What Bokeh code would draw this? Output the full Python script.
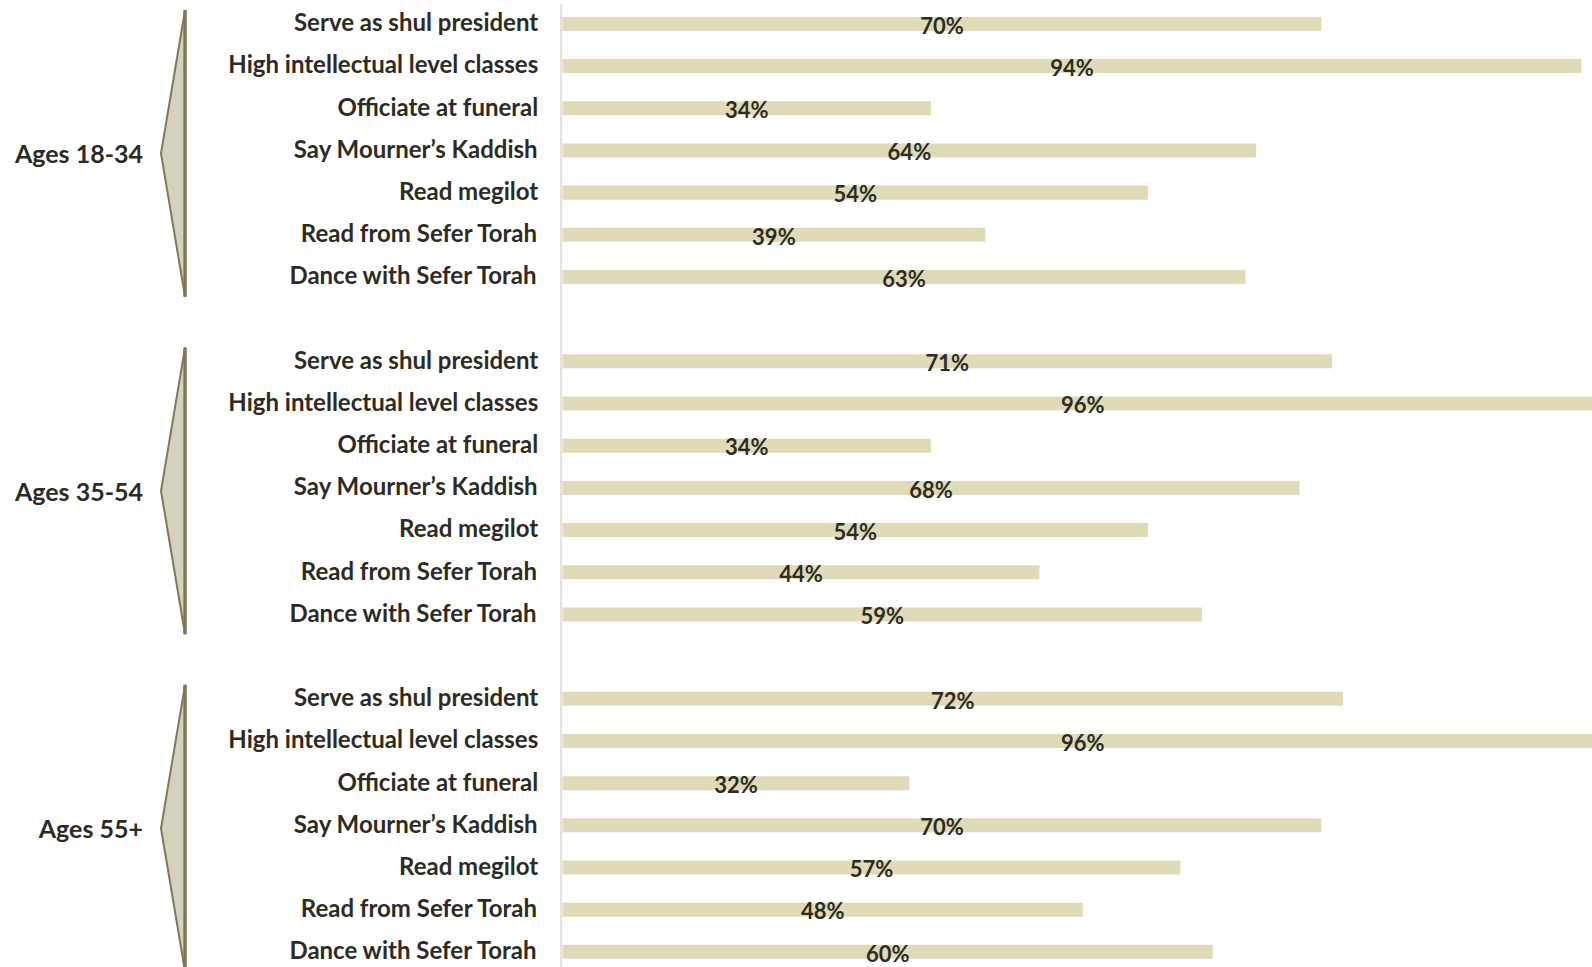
from bokeh.plotting import figure
from bokeh.models import Range1d, ColumnDataSource
from bokeh.core.properties import value
from bokeh.embed import file_html
from bokeh.resources import INLINE

# ---------------- data ----------------
categories = [
    "Serve as shul president",
    "High intellectual level classes",
    "Officiate at funeral",
    "Say Mourner\u2019s Kaddish",
    "Read megilot",
    "Read from Sefer Torah",
    "Dance with Sefer Torah",
]
groups = ["Ages 18-34", "Ages 35-54", "Ages 55+"]
ages_18_34 = [70, 94, 34, 64, 54, 39, 63]
ages_35_54 = [71, 96, 34, 68, 54, 44, 59]
ages_55_plus = [72, 96, 32, 70, 57, 48, 60]
series = [ages_18_34, ages_35_54, ages_55_plus]

# ---------------- styles ----------------
BAR = "#dfdbb7"
TXT = "#2d2b22"
BR_FILL = "#d4d1bd"
BR_LINE = "#7e7a58"
AXIS = "#e3e0d4"
FONT = value("Lato")

# ---------------- layout (rows) ----------------
rows, vals, labs, cats, mids = [], [], [], [], []
grp_rows = []
for g, vs in enumerate(series):
    start = g * 8
    grp_rows.append(start + 3)
    for i, v in enumerate(vs):
        r = start + i
        rows.append(r)
        vals.append(v)
        labs.append(f"{v}%")
        cats.append(categories[i])
        mids.append(v / 2)

src = ColumnDataSource(dict(row=rows, val=vals, lab=labs, cat=cats, mid=mids,
                            labrow=[r + 0.03 for r in rows],
                            catrow=[r - 0.05 for r in rows]))

p = figure(width=1592, height=967,
           x_range=Range1d(-51.845, 95.018), y_range=Range1d(22.371, -0.555),
           output_backend="svg", toolbar_location=None, min_border=0,
           x_axis_location=None, y_axis_location=None,
           outline_line_color=None, background_fill_color="white",
           border_fill_color="white")
p.grid.visible = False

# vertical baseline
p.segment(x0=[-0.12], y0=[-0.48], x1=[-0.12], y1=[22.6], line_color=AXIS, line_width=2)

# bars
p.hbar(y="row", left=0, right="val", height=0.332, source=src,
       fill_color=BAR, line_color=None)

# value labels
p.text(x="mid", y="labrow", text="lab", source=src, text_align="center",
       text_baseline="middle", text_font=FONT, text_font_style="bold",
       text_font_size="22px", text_color=TXT)

# category labels
p.text(x=-2.24, y="catrow", text="cat", source=src, text_align="right",
       text_baseline="middle", text_font=FONT, text_font_style="bold",
       text_font_size="24px", text_color=TXT)

# brackets
xs, ys, gy = [], [], []
for c in grp_rows:
    cc = c + 0.07
    xs.append([-34.82, -37.04, -34.82])
    ys.append([cc - 3.4, cc, cc + 3.4])
    gy.append(cc)
p.patches(xs=xs, ys=ys, fill_color=BR_FILL, line_color=BR_LINE, line_width=2)
p.segment(x0=[-34.82] * 3, y0=[y[0] for y in ys], x1=[-34.82] * 3,
          y1=[y[2] for y in ys], line_color=BR_LINE, line_width=3.5)

# group labels
p.text(x=[-38.7] * 3, y=gy, text=groups, text_align="right",
       text_baseline="middle", text_font=FONT, text_font_style="bold",
       text_font_size="25px", text_color=TXT)

open("out.html", "w").write(file_html(p, INLINE))
